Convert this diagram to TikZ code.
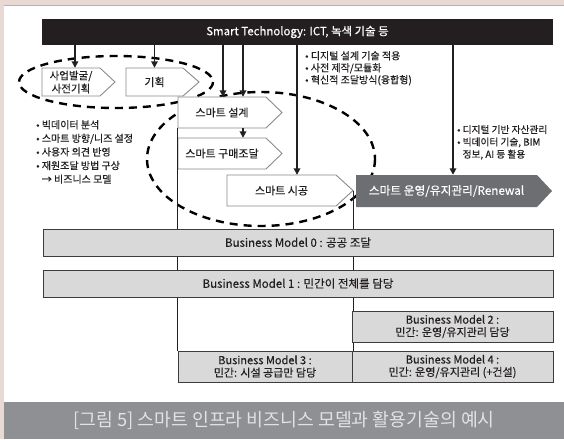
\documentclass[tikz,border=0pt]{standalone}
\usepackage{fontspec}
\setmainfont{Noto Sans CJK KR}[FakeBold=0.35]
\newfontfamily\capfont{Noto Sans CJK KR}
\usetikzlibrary{arrows.meta,calc}
\definecolor{pinkbg}{HTML}{E9D9D3}
\definecolor{topline}{HTML}{B5B0AE}
\definecolor{barblack}{HTML}{231F20}
\definecolor{capgray}{HTML}{8F9094}
\definecolor{captext}{HTML}{E2E2E3}
\definecolor{opgray}{HTML}{6D6E71}
\definecolor{bmfill}{HTML}{D9D9DA}
\definecolor{bmline}{HTML}{3C3C3C}
\definecolor{pentline}{HTML}{8A8A8A}
\definecolor{txt}{HTML}{231F20}
\newcommand\pentbox[8]{%
  \path[#7] (#2,#3) -- (#4,#3) -- ({#4+#6},{(#3+#5)/2}) coordinate (#1tip) -- (#4,#5) -- (#2,#5) -- cycle;
  \node[lbl,minimum width={#4-#2},minimum height={#5-#3}] (#1) at ({(#2+#4)/2},{(#3+#5)/2}) {#8};
}
\begin{document}
\begin{tikzpicture}[x=1pt,y=-1pt,
  lbl/.style={draw=none,inner sep=0pt,align=center,text=txt,font=\fontsize{11}{13}\selectfont},
  pent/.style={draw=pentline,line width=0.9pt,fill=white},
  oppent/.style={fill=opgray},
  arr/.style={line width=1.8pt,-{Triangle[width=6.5pt,length=6.5pt]},draw=barblack},
  dashell/.style={draw=black,line width=2.4pt,dash pattern=on 8pt off 6pt},
  vline/.style={draw=barblack,line width=0.8pt},
  bm/.style={draw=bmline,line width=0.9pt,fill=bmfill,inner sep=0pt,align=center,text=txt,font=\fontsize{11.5}{13}\selectfont},
  ann/.style={inner sep=0pt,align=left,text=txt,anchor=north west}
]
\useasboundingbox (0,0) rectangle (564,439);
% page
\fill[pinkbg] (0,0) rectangle (564,439);
\fill[white] (4,6) rectangle (564,402);
\fill[topline] (4,4.5) rectangle (564,6);
\fill[capgray] (4,402) rectangle (564,439);
\node[text=captext,font=\capfont\fontsize{18.3}{20}\selectfont,inner sep=0pt] (cap) at (284,420) {[그림 5] 스마트 인프라 비즈니스 모델과 활용기술의 예시};

% top bar
\node[fill=barblack,text=white,minimum width=511,minimum height=26,inner sep=0pt,font=\fontsize{11.4}{13}\selectfont] (bar) at (297.5,32) {Smart Technology: ICT, 녹색 기술 등};

% dashed ellipses
\draw[dashell] (116,82) ellipse [x radius=97,y radius=26];
\draw[dashell] (261,159) ellipse [x radius=114,y radius=67];

% pentagon boxes
\pentbox{s1}{42}{68}{100}{96}{15}{pent}{\fontsize{10.5}{13}\selectfont 사업발굴/\\\fontsize{10.5}{13}\selectfont 사전기획}
\pentbox{s2}{126}{68}{183}{96}{16}{pent}{기획}
\pentbox{s3}{178}{97}{266}{128}{16}{pent}{스마트 설계}
\pentbox{s4}{178}{138}{266}{169}{16}{pent}{스마트 구매조달}
\pentbox{s5}{227}{175}{336}{206}{17}{pent}{스마트 시공}
\pentbox{s6}{356}{175}{537}{207}{15}{oppent}{\textcolor{white}{\fontsize{11.7}{13}\selectfont 스마트 운영/유지관리/Renewal}}

% business model boxes (lines first)
\node[inner sep=0pt,minimum width=174,minimum height=31] (bm3pos) at (265,366.5) {};
\node[inner sep=0pt,minimum width=201,minimum height=31] (bm4pos) at (452.5,366.5) {};
\draw[vline] (s3.south west) -- (bm3pos.north west);
\draw[vline] (s5tip) -- (s5tip |- bm4pos.north);

\node[bm,minimum width=510,minimum height=27] (bm0) at (298,242.5) {Business Model 0 : 공공 조달};
\node[bm,minimum width=510,minimum height=27] (bm1) at (298,283.5) {Business Model 1 : 민간이 전체를 담당};
\node[bm,minimum width=201,minimum height=31,font=\fontsize{11}{12.5}\selectfont] (bm2) at (452.5,326.5) {Business Model 2 :\\민간: 운영/유지관리 담당};
\node[bm,minimum width=174,minimum height=31,font=\fontsize{11}{12.5}\selectfont] (bm3) at (bm3pos) {Business Model 3 :\\민간: 시설 공급만 담당};
\node[bm,minimum width=201,minimum height=31,font=\fontsize{11}{12.5}\selectfont] (bm4) at (bm4pos) {Business Model 4 :\\민간: 운영/유지관리 (+건설)};

% arrows
\draw[arr] ([xshift=4pt]s1.north |- bar.south) -- ([xshift=4pt]s1.north);
\draw[arr] (s2.north |- bar.south) -- (s2.north);
\draw[arr] ([xshift=1pt]s3.north |- bar.south) -- ([xshift=1pt]s3.north);
\draw[arr] ([xshift=21pt]s3.north |- bar.south) -- ([xshift=21pt]s3.north);
\draw[arr] ([xshift=21pt]s3.south) -- ([xshift=21pt]s4.north);
\draw[arr] ([xshift=15.5pt]s5.north |- bar.south) -- ([xshift=15.5pt]s5.north);
\draw[arr] ([xshift=6.5pt]s6.north |- bar.south) -- ([xshift=6.5pt]s6.north);

% annotations
\node[ann,font=\fontsize{10}{12}\selectfont] (a1) at (305,51) {• 디지털 설계 기술 적용\\• 사전 제작/모듈화\\• 혁신적 조달방식(융합형)};
\node[ann,font=\fontsize{10}{13.6}\selectfont] (a2) at (36,120) {• 빅데이터 분석\\• 스마트 방향/니즈 설정\\• 사용자 의견 반영\\• 재원조달 방법 구상\\\hphantom{• }→ 비즈니스 모델};
\node[ann,font=\fontsize{9.7}{12.3}\selectfont] (a3) at (457,125) {• 디지털 기반 자산관리\\• 빅데이터 기술, BIM\\\hphantom{• }정보, AI 등 활용};
\end{tikzpicture}
\end{document}
